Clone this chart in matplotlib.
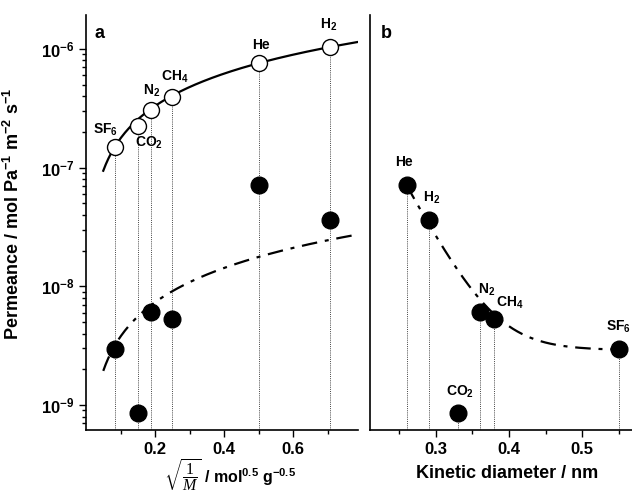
import numpy as np
import matplotlib
matplotlib.use("Agg")
import matplotlib.pyplot as plt
from matplotlib.ticker import LogLocator, NullFormatter

plt.rcParams['font.family'] = ['Liberation Sans', 'DejaVu Sans']
plt.rcParams['mathtext.fontset'] = 'custom'
plt.rcParams['mathtext.rm'] = 'Liberation Serif'
plt.rcParams['mathtext.it'] = 'Liberation Serif:italic'
plt.rcParams['mathtext.bf'] = 'Liberation Sans:bold'
plt.rcParams['mathtext.default'] = 'bf'

# ---- data ----
gas_names = ['SF', 'CO', 'N', 'CH', 'He', 'H']
gas_subs = ['6', '2', '2', '4', '', '2']
inv_sqrt_M = [0.0828, 0.151, 0.189, 0.25, 0.5, 0.707]
kinetic_diam = [0.55, 0.33, 0.36, 0.38, 0.26, 0.29]
perm_open = [1.49e-7, 2.26e-7, 3.06e-7, 3.97e-7, 7.6e-7, 1.04e-6]
perm_filled = [2.95e-9, 8.6e-10, 6.04e-9, 5.3e-9, 7.14e-8, 3.65e-8]

# label positions (data coords)
lab_a_x = [0.0565, 0.183, 0.189, 0.258, 0.507, 0.704]
lab_a_y = [2.08e-7, 1.63e-7, 4.46e-7, 5.85e-7, 1.07e-6, 1.59e-6]
lab_b_x = [0.5665, 0.333, 0.3696, 0.4007, 0.2568, 0.2945]
lab_b_y = [4.57e-9, 1.29e-9, 9.33e-9, 7.33e-9, 1.12e-7, 5.58e-8]
lab_b_ha = ['right', 'center', 'center', 'center', 'center', 'center']

# fitted curve parameters
top_fit_A, top_fit_b = 1.42e-6, 0.906
low_fit_A, low_fit_b = 3.44e-8, 0.96
b_fit_base, b_fit_amp, b_fit_x0, b_fit_tau = 2.9e-9, 6.8e-8, 0.26, 0.038

ytick_vals = [1e-9, 1e-8, 1e-7, 1e-6]
ytick_labels = [r'10$^{-9}$', r'10$^{-8}$', r'10$^{-7}$', r'10$^{-6}$']

ylim = (6.16e-10, 1.93e-6)

fig = plt.figure(figsize=(6.32, 4.95), dpi=100)
axa = fig.add_axes([86/632, 65/495, 272/632, 415/495])
axb = fig.add_axes([370/632, 65/495, 262/632, 415/495])

labels = [n + (r'$_{%s}$' % s if s else '') for n, s in zip(gas_names, gas_subs)]

dash_dot = (0, (7, 3.5, 1.8, 3.5))
GAS_FS = 10
TICK_FS = 12
LAB_FS = 13

# ---- panel a ----
axa.set_yscale('log')
axa.set_xlim(0, 0.788)
axa.set_ylim(*ylim)
for x, y in zip(inv_sqrt_M, perm_open):
    axa.plot([x, x], [ylim[0], y], ls=(0, (1, 1.2)), color='#444444', lw=0.7, zorder=1)
xs = np.linspace(0.05, 0.788, 200)
axa.plot(xs, top_fit_A * xs ** top_fit_b, color='black', lw=1.6, zorder=2)
axa.plot(xs, low_fit_A * xs ** low_fit_b, color='black', lw=1.6, ls=dash_dot, zorder=2)
axa.plot(inv_sqrt_M, perm_open, 'o', ms=11.5, mfc='white', mec='black', mew=1.0, ls='none', zorder=3)
axa.plot(inv_sqrt_M, perm_filled, 'o', ms=12, mfc='black', mec='black', ls='none', zorder=3)
for lab, x, y in zip(labels, lab_a_x, lab_a_y):
    axa.text(x, y, lab, ha='center', va='center', fontsize=GAS_FS, fontweight='bold')

axa.spines['top'].set_visible(False)
axa.spines['right'].set_visible(False)
axa.set_yticks(ytick_vals)
axa.set_yticklabels(ytick_labels)
axa.yaxis.set_minor_locator(LogLocator(base=10, subs=np.arange(2, 10)))
axa.yaxis.set_minor_formatter(NullFormatter())
axa.set_xticks([0.2, 0.4, 0.6])
axa.set_xticklabels(['0.2', '0.4', '0.6'])
axa.set_xticks([0.1, 0.3, 0.5, 0.7], minor=True)
axa.tick_params(axis='both', which='major', direction='out', length=5, width=1.0,
                labelsize=TICK_FS)
axa.tick_params(axis='both', which='minor', direction='out', length=3, width=1.0)
for lab in axa.get_xticklabels() + axa.get_yticklabels():
    lab.set_fontweight('bold')
for s in ['left', 'bottom']:
    axa.spines[s].set_linewidth(1.2)
axa.text(0.03, 0.975, 'a', transform=axa.transAxes, fontsize=LAB_FS, fontweight='bold',
         ha='left', va='top')
axa.set_ylabel(r'Permeance / mol Pa$^{-1}$ m$^{-2}$ s$^{-1}$', fontsize=LAB_FS,
               fontweight='bold')
axa.yaxis.set_label_coords(-0.23, 0.52)
axa.set_xlabel(r'$\sqrt{\dfrac{\mathrm{1}}{\mathit{M}}}$ / mol$^{0.5}$ g$^{-0.5}$',
               fontsize=11.5, fontweight='bold')
axa.xaxis.set_label_coords(0.53, -0.068)

# ---- panel b ----
axb.set_yscale('log')
axb.set_xlim(0.21, 0.568)
axb.set_ylim(*ylim)
for x, y in zip(kinetic_diam, perm_filled):
    axb.plot([x, x], [ylim[0], y], ls=(0, (1, 1.2)), color='#444444', lw=0.7, zorder=1)
xb = np.linspace(b_fit_x0, 0.55, 200)
axb.plot(xb, b_fit_base + b_fit_amp * np.exp(-(xb - b_fit_x0) / b_fit_tau),
         color='black', lw=1.6, ls=dash_dot, zorder=2)
axb.plot(kinetic_diam, perm_filled, 'o', ms=12, mfc='black', mec='black', ls='none', zorder=3)
for lab, x, y, ha in zip(labels, lab_b_x, lab_b_y, lab_b_ha):
    axb.text(x, y, lab, ha=ha, va='center', fontsize=GAS_FS, fontweight='bold')
axb.spines['top'].set_visible(False)
axb.spines['right'].set_visible(False)
for s in ['left', 'bottom']:
    axb.spines[s].set_linewidth(1.2)
axb.set_yticks([])
axb.yaxis.set_minor_locator(plt.NullLocator())
axb.set_xticks([0.3, 0.4, 0.5])
axb.set_xticklabels(['0.3', '0.4', '0.5'])
axb.set_xticks([0.25, 0.35, 0.45, 0.55], minor=True)
axb.tick_params(axis='x', which='major', direction='out', length=5, width=1.0, labelsize=TICK_FS)
axb.tick_params(axis='x', which='minor', direction='out', length=3, width=1.0)
axb.tick_params(axis='y', which='both', left=False, labelleft=False)
for lab in axb.get_xticklabels():
    lab.set_fontweight('bold')
axb.text(0.04, 0.975, 'b', transform=axb.transAxes, fontsize=LAB_FS, fontweight='bold',
         ha='left', va='top')
axb.set_xlabel('Kinetic diameter / nm', fontsize=LAB_FS, fontweight='bold')
axb.xaxis.set_label_coords(0.523, -0.085)

fig.savefig('out.png', dpi=100)
